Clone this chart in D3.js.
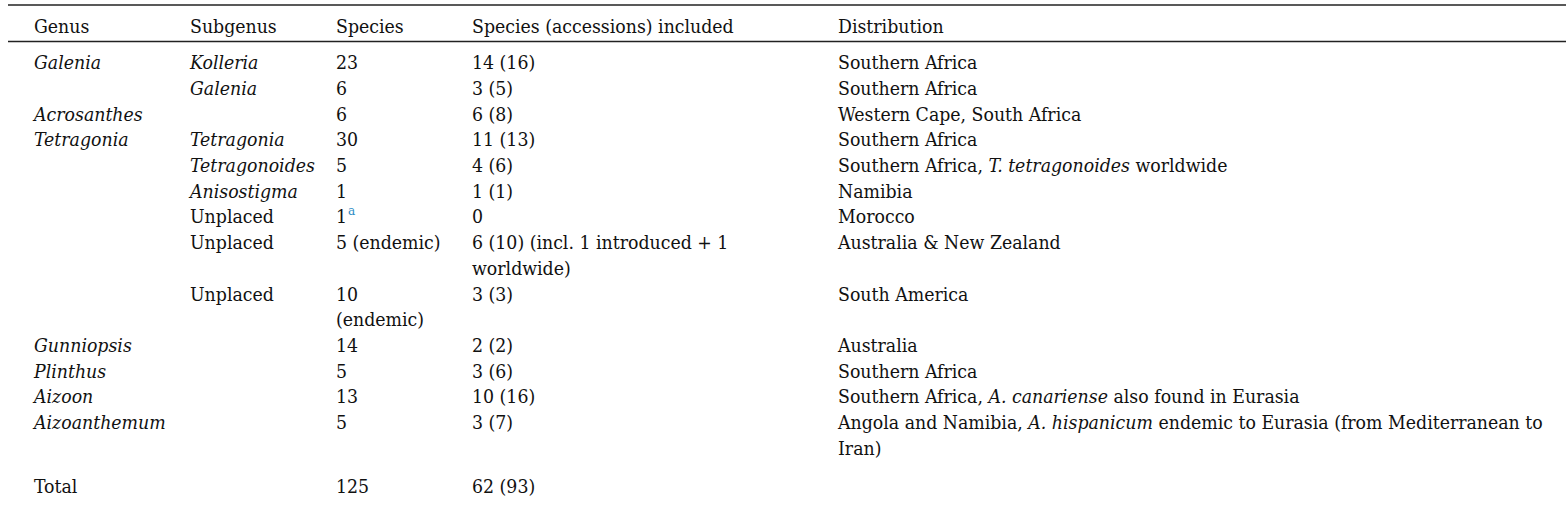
<!DOCTYPE html>
<html><head><meta charset="utf-8">
<script src="https://cdn.jsdelivr.net/npm/d3@7"></script>
<style>body{margin:0;background:#fff}svg{display:block}</style>
</head><body><svg id="c" width="1566" height="507"></svg>
<script>
// ---- data ----
const headers = ["Genus", "Subgenus", "Species", "Species (accessions) included", "Distribution"];
const genus = ["*Galenia*", "", "*Acrosanthes*", "*Tetragonia*", "", "", "", "", "", "*Gunniopsis*", "*Plinthus*", "*Aizoon*", "*Aizoanthemum*", "Total"];
const subgenus = ["*Kolleria*", "*Galenia*", "", "*Tetragonia*", "*Tetragonoides*", "*Anisostigma*", "Unplaced", "Unplaced", "Unplaced", "", "", "", "", ""];
const species = ["23", "6", "6", "30", "5", "1", "1^a", "5 (endemic)", "10|(endemic)", "14", "5", "13", "5", "125"];
const included = ["14 (16)", "3 (5)", "6 (8)", "11 (13)", "4 (6)", "1 (1)", "0", "6 (10) (incl. 1 introduced + 1|worldwide)", "3 (3)", "2 (2)", "3 (6)", "10 (16)", "3 (7)", "62 (93)"];
const distribution = ["Southern Africa", "Southern Africa", "Western Cape, South Africa", "Southern Africa", "Southern Africa, *T. tetragonoides* worldwide", "Namibia", "Morocco", "Australia & New Zealand", "South America", "Australia", "Southern Africa", "Southern Africa, *A. canariense* also found in Eurasia", "Angola and Namibia, *A. hispanicum* endemic to Eurasia (from Mediterranean to|Iran)", ""];

// ---- layout ----
const W = 1566, H = 507;
const svg = d3.select("#c");
const FONT = "'DejaVu Serif Condensed', 'DejaVu Serif', serif";
const FS = 19.3;
const columns = [genus, subgenus, species, included, distribution];

const x = d3.scaleOrdinal().domain(headers).range([34, 190, 336, 472, 838]);

const rowStart = [];
let cursor = 0;
genus.forEach((g, i) => {
  if (g === "Total") cursor += 0.5;
  rowStart.push(cursor);
  const n = d3.max(columns, col => col[i].split("|").length);
  cursor += n;
});
const lastLine = rowStart[rowStart.length - 1];
const y = d3.scaleLinear().domain([0, lastLine]).range([69.3, 493.3]);

svg.append("line").attr("x1", 8).attr("x2", W).attr("y1", 5).attr("y2", 5)
  .attr("stroke", "#222").attr("stroke-width", 1.4);
svg.append("line").attr("x1", 8).attr("x2", W).attr("y1", 41.5).attr("y2", 41.5)
  .attr("stroke", "#222").attr("stroke-width", 1.4);

svg.append("g").selectAll("text").data(headers).join("text")
  .attr("x", d => x(d)).attr("y", 32.8)
  .attr("font-family", FONT).attr("font-stretch", "condensed").attr("font-size", FS).attr("fill", "#111")
  .text(d => d);

function rich(textSel, str) {
  const parts = str.split(/(\*[^*]+\*|\^\w+)/).filter(s => s.length);
  parts.forEach(p => {
    if (p.startsWith("*")) {
      textSel.append("tspan").attr("font-style", "italic").text(p.slice(1, -1));
    } else if (p.startsWith("^")) {
      textSel.append("tspan").attr("font-size", FS * 0.7).attr("dy", -8)
        .attr("dx", 1).attr("fill", "#2a8cc4").text(p.slice(1));
    } else {
      textSel.append("tspan").text(p);
    }
  });
}

const body = svg.append("g").attr("font-family", FONT).attr("font-stretch", "condensed")
  .attr("font-size", FS).attr("fill", "#111");
columns.forEach((col, ci) => {
  col.forEach((cell, ri) => {
    if (!cell) return;
    cell.split("|").forEach((ln, li) => {
      const t = body.append("text")
        .attr("x", x(headers[ci]))
        .attr("y", y(rowStart[ri] + li));
      rich(t, ln);
    });
  });
});
</script></body></html>
